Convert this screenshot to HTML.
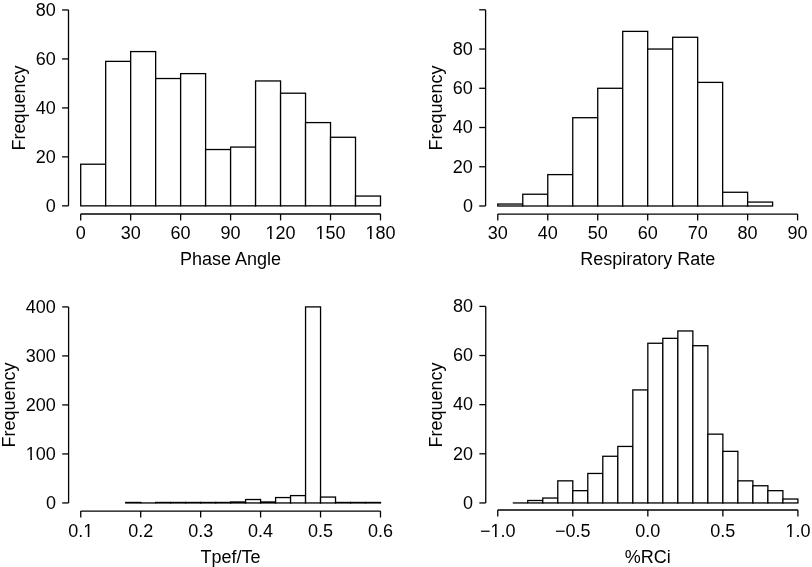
<!DOCTYPE html>
<html><head><meta charset="utf-8"><style>
html,body{margin:0;padding:0;background:#fff;}
body{width:812px;height:567px;overflow:hidden;font-family:"Liberation Sans", sans-serif;}
svg{display:block;}
text{-webkit-font-smoothing:antialiased;}
</style></head><body>
<svg width="812" height="567" viewBox="0 0 812 567">
<rect x="0" y="0" width="812" height="567" fill="#fff"/>
<g fill="#fff" stroke="#000" stroke-width="1.3" stroke-linecap="butt">
<rect x="80.70" y="164.22" width="24.98" height="41.63"/>
<rect x="105.68" y="61.37" width="24.98" height="144.48"/>
<rect x="130.67" y="51.58" width="24.98" height="154.27"/>
<rect x="155.65" y="78.52" width="24.98" height="127.33"/>
<rect x="180.63" y="73.62" width="24.98" height="132.23"/>
<rect x="205.62" y="149.53" width="24.98" height="56.32"/>
<rect x="230.60" y="147.08" width="24.98" height="58.77"/>
<rect x="255.58" y="80.96" width="24.98" height="124.89"/>
<rect x="280.57" y="93.21" width="24.98" height="112.64"/>
<rect x="305.55" y="122.59" width="24.98" height="83.26"/>
<rect x="330.53" y="137.28" width="24.98" height="68.56"/>
<rect x="355.52" y="196.06" width="24.98" height="9.79"/>
<line x1="68.50" y1="205.85" x2="68.50" y2="9.95"/>
<line x1="62.10" y1="205.85" x2="68.50" y2="205.85"/>
<line x1="62.10" y1="156.88" x2="68.50" y2="156.88"/>
<line x1="62.10" y1="107.90" x2="68.50" y2="107.90"/>
<line x1="62.10" y1="58.92" x2="68.50" y2="58.92"/>
<line x1="62.10" y1="9.95" x2="68.50" y2="9.95"/>
<line x1="80.70" y1="214.00" x2="380.50" y2="214.00"/>
<line x1="80.70" y1="214.00" x2="80.70" y2="220.40"/>
<line x1="130.67" y1="214.00" x2="130.67" y2="220.40"/>
<line x1="180.63" y1="214.00" x2="180.63" y2="220.40"/>
<line x1="230.60" y1="214.00" x2="230.60" y2="220.40"/>
<line x1="280.57" y1="214.00" x2="280.57" y2="220.40"/>
<line x1="330.53" y1="214.00" x2="330.53" y2="220.40"/>
<line x1="380.50" y1="214.00" x2="380.50" y2="220.40"/>
<rect x="497.80" y="204.04" width="24.98" height="1.96"/>
<rect x="522.78" y="194.23" width="24.98" height="11.77"/>
<rect x="547.77" y="174.61" width="24.98" height="31.39"/>
<rect x="572.75" y="117.71" width="24.98" height="88.29"/>
<rect x="597.73" y="88.28" width="24.98" height="117.72"/>
<rect x="622.72" y="31.38" width="24.98" height="174.62"/>
<rect x="647.70" y="49.04" width="24.98" height="156.96"/>
<rect x="672.68" y="37.27" width="24.98" height="168.73"/>
<rect x="697.67" y="82.39" width="24.98" height="123.61"/>
<rect x="722.65" y="192.27" width="24.98" height="13.73"/>
<rect x="747.63" y="202.08" width="24.98" height="3.92"/>
<line x1="485.60" y1="206.00" x2="485.60" y2="9.80"/>
<line x1="479.20" y1="206.00" x2="485.60" y2="206.00"/>
<line x1="479.20" y1="166.76" x2="485.60" y2="166.76"/>
<line x1="479.20" y1="127.52" x2="485.60" y2="127.52"/>
<line x1="479.20" y1="88.28" x2="485.60" y2="88.28"/>
<line x1="479.20" y1="49.04" x2="485.60" y2="49.04"/>
<line x1="479.20" y1="9.80" x2="485.60" y2="9.80"/>
<line x1="497.80" y1="214.05" x2="797.60" y2="214.05"/>
<line x1="497.80" y1="214.05" x2="497.80" y2="220.45"/>
<line x1="547.77" y1="214.05" x2="547.77" y2="220.45"/>
<line x1="597.73" y1="214.05" x2="597.73" y2="220.45"/>
<line x1="647.70" y1="214.05" x2="647.70" y2="220.45"/>
<line x1="697.67" y1="214.05" x2="697.67" y2="220.45"/>
<line x1="747.63" y1="214.05" x2="747.63" y2="220.45"/>
<line x1="797.60" y1="214.05" x2="797.60" y2="220.45"/>
<rect x="125.71" y="502.46" width="14.99" height="0.49"/>
<line x1="140.70" y1="502.95" x2="155.69" y2="502.95"/>
<rect x="155.69" y="502.46" width="14.99" height="0.49"/>
<rect x="170.68" y="502.46" width="14.99" height="0.49"/>
<rect x="185.66" y="502.46" width="14.99" height="0.49"/>
<rect x="200.65" y="502.46" width="14.99" height="0.49"/>
<rect x="215.64" y="502.46" width="14.99" height="0.49"/>
<rect x="230.62" y="501.97" width="14.99" height="0.98"/>
<rect x="245.61" y="499.52" width="14.99" height="3.43"/>
<rect x="260.60" y="501.97" width="14.99" height="0.98"/>
<rect x="275.59" y="497.56" width="14.99" height="5.39"/>
<rect x="290.57" y="495.60" width="14.99" height="7.35"/>
<rect x="305.56" y="306.90" width="14.99" height="196.05"/>
<rect x="320.55" y="497.07" width="14.99" height="5.88"/>
<rect x="335.54" y="502.46" width="14.99" height="0.49"/>
<rect x="350.53" y="502.46" width="14.99" height="0.49"/>
<rect x="365.51" y="502.46" width="14.99" height="0.49"/>
<line x1="68.60" y1="502.95" x2="68.60" y2="306.90"/>
<line x1="62.20" y1="502.95" x2="68.60" y2="502.95"/>
<line x1="62.20" y1="453.94" x2="68.60" y2="453.94"/>
<line x1="62.20" y1="404.92" x2="68.60" y2="404.92"/>
<line x1="62.20" y1="355.91" x2="68.60" y2="355.91"/>
<line x1="62.20" y1="306.90" x2="68.60" y2="306.90"/>
<line x1="80.75" y1="511.10" x2="380.50" y2="511.10"/>
<line x1="80.75" y1="511.10" x2="80.75" y2="517.50"/>
<line x1="140.70" y1="511.10" x2="140.70" y2="517.50"/>
<line x1="200.65" y1="511.10" x2="200.65" y2="517.50"/>
<line x1="260.60" y1="511.10" x2="260.60" y2="517.50"/>
<line x1="320.55" y1="511.10" x2="320.55" y2="517.50"/>
<line x1="380.50" y1="511.10" x2="380.50" y2="517.50"/>
<line x1="512.76" y1="502.95" x2="527.76" y2="502.95"/>
<rect x="527.76" y="500.49" width="15.01" height="2.46"/>
<rect x="542.77" y="498.04" width="15.01" height="4.91"/>
<rect x="557.78" y="480.84" width="15.01" height="22.11"/>
<rect x="572.79" y="490.67" width="15.01" height="12.28"/>
<rect x="587.79" y="473.47" width="15.01" height="29.48"/>
<rect x="602.80" y="456.27" width="15.01" height="46.68"/>
<rect x="617.81" y="446.44" width="15.01" height="56.51"/>
<rect x="632.82" y="389.93" width="15.01" height="113.02"/>
<rect x="647.83" y="343.25" width="15.01" height="159.70"/>
<rect x="662.83" y="338.34" width="15.01" height="164.61"/>
<rect x="677.84" y="330.97" width="15.01" height="171.98"/>
<rect x="692.85" y="345.71" width="15.01" height="157.24"/>
<rect x="707.86" y="434.16" width="15.01" height="68.79"/>
<rect x="722.86" y="451.36" width="15.01" height="51.59"/>
<rect x="737.87" y="480.84" width="15.01" height="22.11"/>
<rect x="752.88" y="485.75" width="15.01" height="17.20"/>
<rect x="767.88" y="490.67" width="15.01" height="12.28"/>
<rect x="782.89" y="499.02" width="15.01" height="3.93"/>
<line x1="485.75" y1="502.95" x2="485.75" y2="306.40"/>
<line x1="479.35" y1="502.95" x2="485.75" y2="502.95"/>
<line x1="479.35" y1="453.81" x2="485.75" y2="453.81"/>
<line x1="479.35" y1="404.67" x2="485.75" y2="404.67"/>
<line x1="479.35" y1="355.54" x2="485.75" y2="355.54"/>
<line x1="479.35" y1="306.40" x2="485.75" y2="306.40"/>
<line x1="497.75" y1="510.00" x2="797.90" y2="510.00"/>
<line x1="497.75" y1="510.00" x2="497.75" y2="516.40"/>
<line x1="572.79" y1="510.00" x2="572.79" y2="516.40"/>
<line x1="647.83" y1="510.00" x2="647.83" y2="516.40"/>
<line x1="722.86" y1="510.00" x2="722.86" y2="516.40"/>
<line x1="797.90" y1="510.00" x2="797.90" y2="516.40"/>
</g>
<g font-family="Liberation Sans, sans-serif" font-size="18px" fill="#000" opacity="0.999">
<text x="55.80" y="211.65" text-anchor="end">0</text>
<text x="55.80" y="162.68" text-anchor="end">20</text>
<text x="55.80" y="113.70" text-anchor="end">40</text>
<text x="55.80" y="64.72" text-anchor="end">60</text>
<text x="55.80" y="15.75" text-anchor="end">80</text>
<text x="80.70" y="238.70" text-anchor="middle">0</text>
<text x="130.67" y="238.70" text-anchor="middle">30</text>
<text x="180.63" y="238.70" text-anchor="middle">60</text>
<text x="230.60" y="238.70" text-anchor="middle">90</text>
<text x="280.57" y="238.70" text-anchor="middle">120</text>
<text x="330.53" y="238.70" text-anchor="middle">150</text>
<text x="380.50" y="238.70" text-anchor="middle">180</text>
<text x="230.60" y="264.70" text-anchor="middle">Phase Angle</text>
<text x="25.10" y="108.00" text-anchor="middle" transform="rotate(-90 25.10 108.00)">Frequency</text>
<text x="472.90" y="211.80" text-anchor="end">0</text>
<text x="472.90" y="172.56" text-anchor="end">20</text>
<text x="472.90" y="133.32" text-anchor="end">40</text>
<text x="472.90" y="94.08" text-anchor="end">60</text>
<text x="472.90" y="54.84" text-anchor="end">80</text>
<text x="497.80" y="238.70" text-anchor="middle">30</text>
<text x="547.77" y="238.70" text-anchor="middle">40</text>
<text x="597.73" y="238.70" text-anchor="middle">50</text>
<text x="647.70" y="238.70" text-anchor="middle">60</text>
<text x="697.67" y="238.70" text-anchor="middle">70</text>
<text x="747.63" y="238.70" text-anchor="middle">80</text>
<text x="797.60" y="238.70" text-anchor="middle">90</text>
<text x="647.70" y="264.90" text-anchor="middle">Respiratory Rate</text>
<text x="442.10" y="108.00" text-anchor="middle" transform="rotate(-90 442.10 108.00)">Frequency</text>
<text x="55.90" y="508.75" text-anchor="end">0</text>
<text x="55.90" y="459.74" text-anchor="end">100</text>
<text x="55.90" y="410.72" text-anchor="end">200</text>
<text x="55.90" y="361.71" text-anchor="end">300</text>
<text x="55.90" y="312.70" text-anchor="end">400</text>
<text x="80.75" y="536.80" text-anchor="middle">0.1</text>
<text x="140.70" y="536.80" text-anchor="middle">0.2</text>
<text x="200.65" y="536.80" text-anchor="middle">0.3</text>
<text x="260.60" y="536.80" text-anchor="middle">0.4</text>
<text x="320.55" y="536.80" text-anchor="middle">0.5</text>
<text x="380.50" y="536.80" text-anchor="middle">0.6</text>
<text x="230.62" y="562.50" text-anchor="middle">Tpef/Te</text>
<text x="15.20" y="405.00" text-anchor="middle" transform="rotate(-90 15.20 405.00)">Frequency</text>
<text x="473.05" y="508.75" text-anchor="end">0</text>
<text x="473.05" y="459.61" text-anchor="end">20</text>
<text x="473.05" y="410.47" text-anchor="end">40</text>
<text x="473.05" y="361.34" text-anchor="end">60</text>
<text x="473.05" y="312.20" text-anchor="end">80</text>
<text x="497.75" y="536.80" text-anchor="middle">−1.0</text>
<text x="572.79" y="536.80" text-anchor="middle">−0.5</text>
<text x="647.83" y="536.80" text-anchor="middle">0.0</text>
<text x="722.86" y="536.80" text-anchor="middle">0.5</text>
<text x="797.90" y="536.80" text-anchor="middle">1.0</text>
<text x="647.83" y="562.50" text-anchor="middle">%RCi</text>
<text x="442.00" y="405.00" text-anchor="middle" transform="rotate(-90 442.00 405.00)">Frequency</text>
</g>
<g fill="#fff" stroke="none">
<rect x="265.82" y="236.66" width="4.18" height="3.24"/>
<rect x="271.74" y="236.66" width="3.93" height="3.24"/>
<rect x="315.78" y="236.66" width="4.18" height="3.24"/>
<rect x="321.70" y="236.66" width="3.93" height="3.24"/>
<rect x="365.75" y="236.66" width="4.18" height="3.24"/>
<rect x="371.67" y="236.66" width="3.93" height="3.24"/>
<rect x="26.12" y="457.70" width="4.18" height="3.24"/>
<rect x="32.05" y="457.70" width="3.93" height="3.24"/>
<rect x="83.51" y="534.76" width="4.18" height="3.24"/>
<rect x="89.43" y="534.76" width="3.93" height="3.24"/>
<rect x="490.75" y="534.76" width="4.18" height="3.24"/>
<rect x="496.67" y="534.76" width="3.93" height="3.24"/>
<rect x="785.66" y="534.76" width="4.18" height="3.24"/>
<rect x="791.58" y="534.76" width="3.93" height="3.24"/>
</g>
</svg>
</body></html>
